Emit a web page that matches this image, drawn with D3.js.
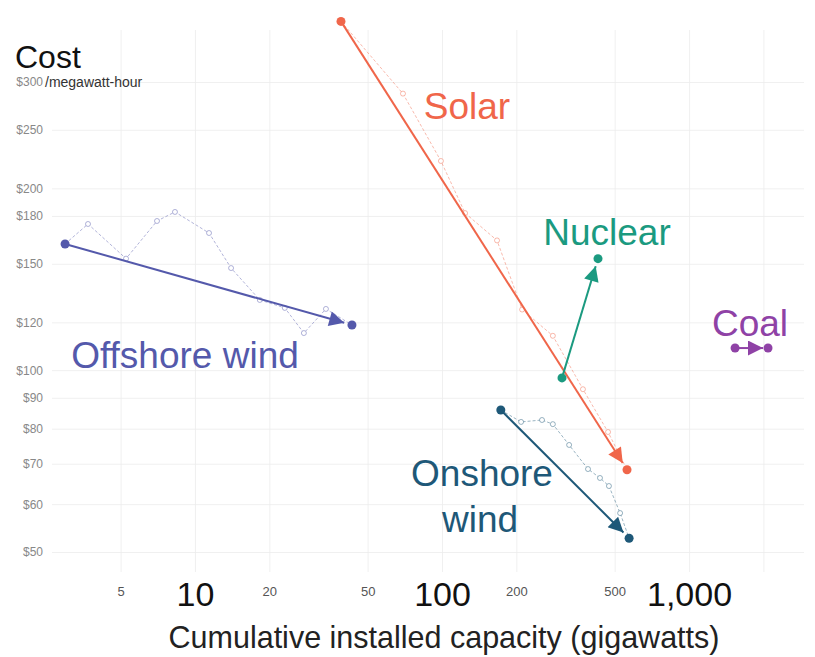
<!DOCTYPE html>
<html lang="en">
<head>
    <meta charset="UTF-8">
    <script src="https://d3js.org/d3.v7.min.js"></script>
    <title>Learning curves</title>
    <style>
        body { margin: 0; background: #fff; }
        svg { display: block; font-family: "Liberation Sans", Arial, sans-serif; }
    </style>
</head>
<body>
<svg id="chart" width="815" height="657"></svg>
<script>
    // ---- data ----
    const solarCap  = [39, 69.5, 99, 124, 167, 211, 281, 372, 470, 561];
    const solarCost = [378, 287, 222, 182, 164, 126, 114, 93, 79, 68.4];

    const onshoreCap  = [173, 209, 254, 281, 327, 390, 436, 474, 526, 572];
    const onshoreCost = [85.9, 82.1, 82.7, 81.4, 75.2, 68.6, 66.3, 64.3, 58.0, 52.7];

    const offshoreCap  = [2.98, 3.69, 5.26, 7.02, 8.3, 11.4, 14.0, 18.3, 23.1, 27.6, 33.9, 43.2];
    const offshoreCost = [161.8, 174.6, 153, 176.6, 182.8, 168.7, 147.6, 130.7, 126.8, 115.2, 126.3, 118.8];

    const nuclearCap  = [306, 428];
    const nuclearCost = [97.1, 153];

    const coalCap  = [1536, 2088];
    const coalCost = [108.8, 108.8];

    const yTicks = [50, 60, 70, 80, 90, 100, 120, 150, 180, 200, 250, 300];
    const xTicks = [5, 10, 20, 50, 100, 200, 500, 1000];
    const xBigTicks = [10, 100, 1000];

    const svg = d3.select("#chart");

    // log scales on both axes
    const x = d3.scaleLog().domain([2, 3000]).range([22.3, 806.9]);
    const y = d3.scaleLog().domain([50, 300]).range([552, 82]);

    const narrow = "'Liberation Sans Narrow', 'Arial Narrow', 'Liberation Sans', sans-serif";

    // ---- grid ----
    svg.append("g")
        .attr("transform", "translate(52,0)")
        .call(d3.axisLeft(y).tickValues(yTicks).tickSize(-752).tickFormat(""))
        .call(g => g.select(".domain").remove())
        .call(g => g.selectAll("line").attr("stroke", "#ececec").attr("stroke-width", 0.8));

    svg.append("g")
        .attr("transform", "translate(0,572)")
        .call(d3.axisBottom(x).tickValues(xTicks.concat([2000])).tickSize(-542).tickFormat(""))
        .call(g => g.select(".domain").remove())
        .call(g => g.selectAll("line").attr("stroke", "#ececec").attr("stroke-width", 0.8));

    // ---- y axis labels ----
    svg.append("g")
        .attr("transform", "translate(43,0)")
        .call(d3.axisLeft(y).tickValues(yTicks).tickSize(0).tickPadding(0).tickFormat(d => "$" + d))
        .call(g => g.select(".domain").remove())
        .call(g => g.selectAll("text")
            .attr("fill", "#888")
            .attr("font-size", 12)
            .attr("font-family", narrow));

    svg.append("text")
        .attr("x", 45).attr("y", y(300) + 4.5)
        .attr("font-size", 14).attr("fill", "#333")
        .text("/megawatt-hour");

    svg.append("text")
        .attr("x", 15).attr("y", 68)
        .attr("font-size", 32).attr("fill", "#111")
        .text("Cost");

    // ---- x axis labels ----
    svg.append("g")
        .attr("transform", "translate(0,577)")
        .call(d3.axisBottom(x).tickValues(xTicks).tickSize(0).tickPadding(0).tickFormat(d3.format(",")))
        .call(g => g.select(".domain").remove())
        .call(g => g.selectAll("text")
            .attr("font-family", d => xBigTicks.includes(d) ? "Liberation Sans, Arial, sans-serif" : narrow)
            .attr("dy", d => xBigTicks.includes(d) ? "0.86em" : "1.45em")
            .attr("font-size", d => xBigTicks.includes(d) ? 34 : 13)
            .attr("fill", d => xBigTicks.includes(d) ? "#111" : "#555"));

    svg.append("text")
        .attr("x", 444).attr("y", 648)
        .attr("text-anchor", "middle")
        .attr("font-size", 30.5).attr("fill", "#222")
        .text("Cumulative installed capacity (gigawatts)");

    // ---- series ----
    const series = [
        { name: "solar",    color: "#f0664a", cap: solarCap,    cost: solarCost,    dashed: true },
        { name: "onshore",  color: "#1e5878", cap: onshoreCap,  cost: onshoreCost,  dashed: true },
        { name: "offshore", color: "#5459ab", cap: offshoreCap, cost: offshoreCost, dashed: true },
        { name: "nuclear",  color: "#1b9a80", cap: nuclearCap,  cost: nuclearCost,  dashed: false },
        { name: "coal",     color: "#8f42a6", cap: coalCap,     cost: coalCost,     dashed: false }
    ];

    const defs = svg.append("defs");
    series.forEach(s => {
        defs.append("marker")
            .attr("id", "arrow-" + s.name)
            .attr("viewBox", "0 0 10 10")
            .attr("refX", 10).attr("refY", 5)
            .attr("markerUnits", "userSpaceOnUse")
            .attr("markerWidth", 19).attr("markerHeight", 15)
            .attr("orient", "auto")
            .append("path")
            .attr("d", "M0,0 L10,5 L0,10 Z")
            .attr("fill", s.color);
    });

    const line = d3.line().x(d => x(d[0])).y(d => y(d[1]));

    series.forEach(s => {
        const pts = s.cap.map((c, i) => [c, s.cost[i]]);
        const g = svg.append("g");

        // year by year path (dashed, light)
        if (s.dashed) {
            g.append("path")
                .attr("d", line(pts))
                .attr("fill", "none")
                .attr("stroke", s.color)
                .attr("stroke-opacity", 0.45)
                .attr("stroke-width", 1)
                .attr("stroke-dasharray", "3,2");
            g.selectAll(".pt")
                .data(pts.slice(1, -1))
                .join("circle")
                .attr("cx", d => x(d[0])).attr("cy", d => y(d[1]))
                .attr("r", 2.5)
                .attr("fill", "#fff")
                .attr("stroke", s.color)
                .attr("stroke-opacity", 0.5)
                .attr("stroke-width", 0.9);
        }

        // straight arrow start -> end, stopping short of the end dot
        const first = pts[0], last = pts[pts.length - 1];
        const x0 = x(first[0]), y0 = y(first[1]);
        const x1 = x(last[0]),  y1 = y(last[1]);
        const len = Math.hypot(x1 - x0, y1 - y0);
        const gap = s.name === "coal" ? 5 : 8;
        const ex = x1 - (x1 - x0) * gap / len, ey = y1 - (y1 - y0) * gap / len;

        g.append("line")
            .attr("x1", x0).attr("y1", y0)
            .attr("x2", ex).attr("y2", ey)
            .attr("stroke", s.color)
            .attr("stroke-width", 2)
            .attr("marker-end", "url(#arrow-" + s.name + ")");

        g.selectAll(".end")
            .data([first, last])
            .join("circle")
            .attr("cx", d => x(d[0])).attr("cy", d => y(d[1]))
            .attr("r", 4.5)
            .attr("fill", s.color);
    });

    // ---- labels ----
    const labels = [
        { text: "Solar",         x: 467, y: 119, color: "#f0664a" },
        { text: "Nuclear",       x: 607, y: 245, color: "#1b9a80" },
        { text: "Offshore wind", x: 185, y: 368, color: "#5459ab" },
        { text: "Onshore",       x: 482, y: 486, color: "#1e5878" },
        { text: "wind",          x: 480, y: 532, color: "#1e5878" },
        { text: "Coal",          x: 750, y: 336, color: "#8f42a6" }
    ];
    svg.selectAll(".label")
        .data(labels)
        .join("text")
        .attr("class", "label")
        .attr("x", d => d.x).attr("y", d => d.y)
        .attr("text-anchor", "middle")
        .attr("font-size", 37)
        .attr("fill", d => d.color)
        .text(d => d.text);
</script>
</body>
</html>
